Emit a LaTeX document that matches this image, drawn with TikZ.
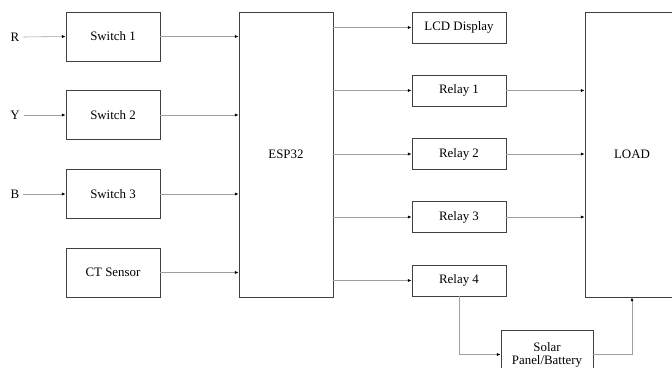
\documentclass[tikz,border=0pt]{standalone}
\usepackage{fontspec}
\setmainfont{Liberation Serif}
\usetikzlibrary{arrows.meta}

\begin{document}
\begin{tikzpicture}[x=0.03cm, y=-0.03cm,
    every node/.style={font=\fontsize{11}{13}\selectfont},
    blockbox/.style={draw=black!75, line width=0.7pt, minimum width=2.82cm, inner sep=0pt, align=center},
    smallbox/.style={blockbox, minimum height=0.93cm},
    midbox/.style={blockbox, minimum height=1.47cm},
    tallbox/.style={blockbox, minimum height=8.55cm},
    sig/.style={draw=gray!75, line width=0.5pt, -{Latex[length=3.2pt,width=2.6pt,black]}}]
        \clip (0,0) rectangle (672,368);

        % Eingaenge
        \node (inR) at (15,37) {R};
        \node (inY) at (15,115) {Y};
        \node (inB) at (15,194) {B};

        % Schalter und Sensor
        \node[midbox] (sw1) at (113,36.5) {Switch 1};
        \node[midbox] (sw2) at (113,115) {Switch 2};
        \node[midbox] (sw3) at (113,194) {Switch 3};
        \node[midbox] (ct)  at (113,272.5) {CT Sensor};

        % Controller
        \node[tallbox] (esp) at (286,154.5) {ESP32};

        % Ausgaenge
        \node[smallbox] (lcd) at (459,27.5) {LCD Display};
        \node[smallbox] (rel1) at (459,90.5) {Relay 1};
        \node[smallbox] (rel2) at (459,154) {Relay 2};
        \node[smallbox] (rel3) at (459,217) {Relay 3};
        \node[smallbox] (rel4) at (459,280.5) {Relay 4};

        \node[tallbox] (load) at (632,154.5) {LOAD};
        \node[midbox, minimum width=2.76cm] (solar) at (547,354.5) {Solar\\[-2pt]Panel/Battery};

        % Verbindungen links
        \draw[sig] (inR.east) -- (sw1.west);
        \draw[sig] (inY.east) -- (sw2.west);
        \draw[sig] (inB.east) -- (sw3.west);
        \foreach \src in {sw1, sw2, sw3, ct}
            \draw[sig] (\src.east) -- (\src.east -| esp.west);

        % Verbindungen rechts
        \foreach \dst in {lcd, rel1, rel2, rel3, rel4}
            \draw[sig] (esp.east |- \dst.west) -- (\dst.west);
        \foreach \src in {rel1, rel2, rel3}
            \draw[sig] (\src.east) -- (\src.east -| load.west);

        % Solar-Zweig
        \draw[sig] (rel4.south) |- (solar.west);
        \draw[sig] (solar.east) -| (load.south);
    \end{tikzpicture}
\end{document}
